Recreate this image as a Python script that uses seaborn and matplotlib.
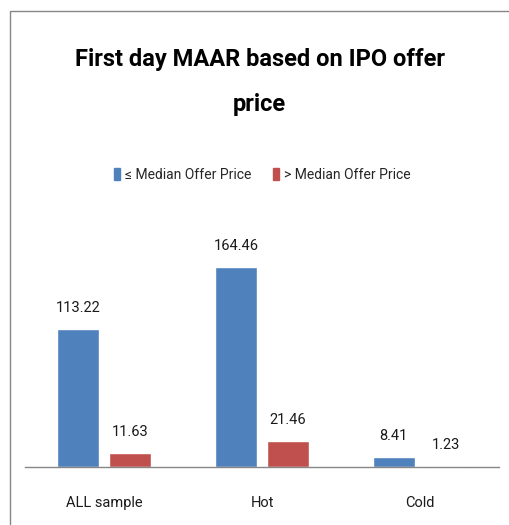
import pandas as pd
import matplotlib.pyplot as plt
import matplotlib.patches as mpatches
import seaborn as sns

categories = ['ALL sample', 'Hot', 'Cold']
series = ['≤ Median Offer Price', '> Median Offer Price']
below_median = [113.22, 164.46, 8.41]
above_median = [11.63, 21.46, 1.23]

df = pd.DataFrame({
    'group': categories * 2,
    'series': [series[0]] * 3 + [series[1]] * 3,
    'maar': below_median + above_median,
})

sns.set_style('white')
plt.rcParams['font.family'] = ['Roboto', 'DejaVu Sans']

fig = plt.figure(figsize=(5.09, 5.25), dpi=100)
ax = fig.add_axes([25 / 509, 0.110, 474 / 509, 0.464])

sns.barplot(data=df, x='group', y='maar', hue='series', order=categories,
            hue_order=series, palette=['#4F81BD', '#C0504D'],
            width=0.66, gap=0.21, saturation=1, ax=ax, legend=False)

# value labels on top of bars
for cont in ax.containers:
    ax.bar_label(cont, fmt='%.2f', padding=10, fontsize=10.5, color='#1a1a1a')

ax.set_ylim(0, 200)
ax.set_xlim(-0.5, 2.5)
ax.set_xlabel('')
ax.set_ylabel('')
ax.set_yticks([])
ax.tick_params(axis='x', length=0, labelsize=10.5, pad=21, labelcolor='#1a1a1a')
for s in ['top', 'right', 'left']:
    ax.spines[s].set_visible(False)
ax.spines['bottom'].set_color('#868686')
ax.spines['bottom'].set_linewidth(1)

# title
fig.text(0.51, 0.886, 'First day MAAR based on IPO offer', ha='center', va='center',
         fontsize=17, fontweight='bold', color='black')
fig.text(0.51, 0.800, 'price', ha='center', va='center',
         fontsize=17, fontweight='bold', color='black')

# legend
handles = [mpatches.Patch(color='#4F81BD'), mpatches.Patch(color='#C0504D')]
fig.legend(handles, series, loc='center', bbox_to_anchor=(0.515, 0.667), ncol=2,
           frameon=False, fontsize=10, handlelength=0.45, handleheight=1.0,
           handletextpad=0.3, columnspacing=1.6)

# outer chart border (cut off at right and bottom)
fig.patches.append(mpatches.Rectangle((10 / 509, -0.1), 1.2, 1 - 11 / 525 + 0.1,
                                      transform=fig.transFigure, fill=False,
                                      edgecolor='#868686', linewidth=1))

fig.savefig('out.png', dpi=100)
